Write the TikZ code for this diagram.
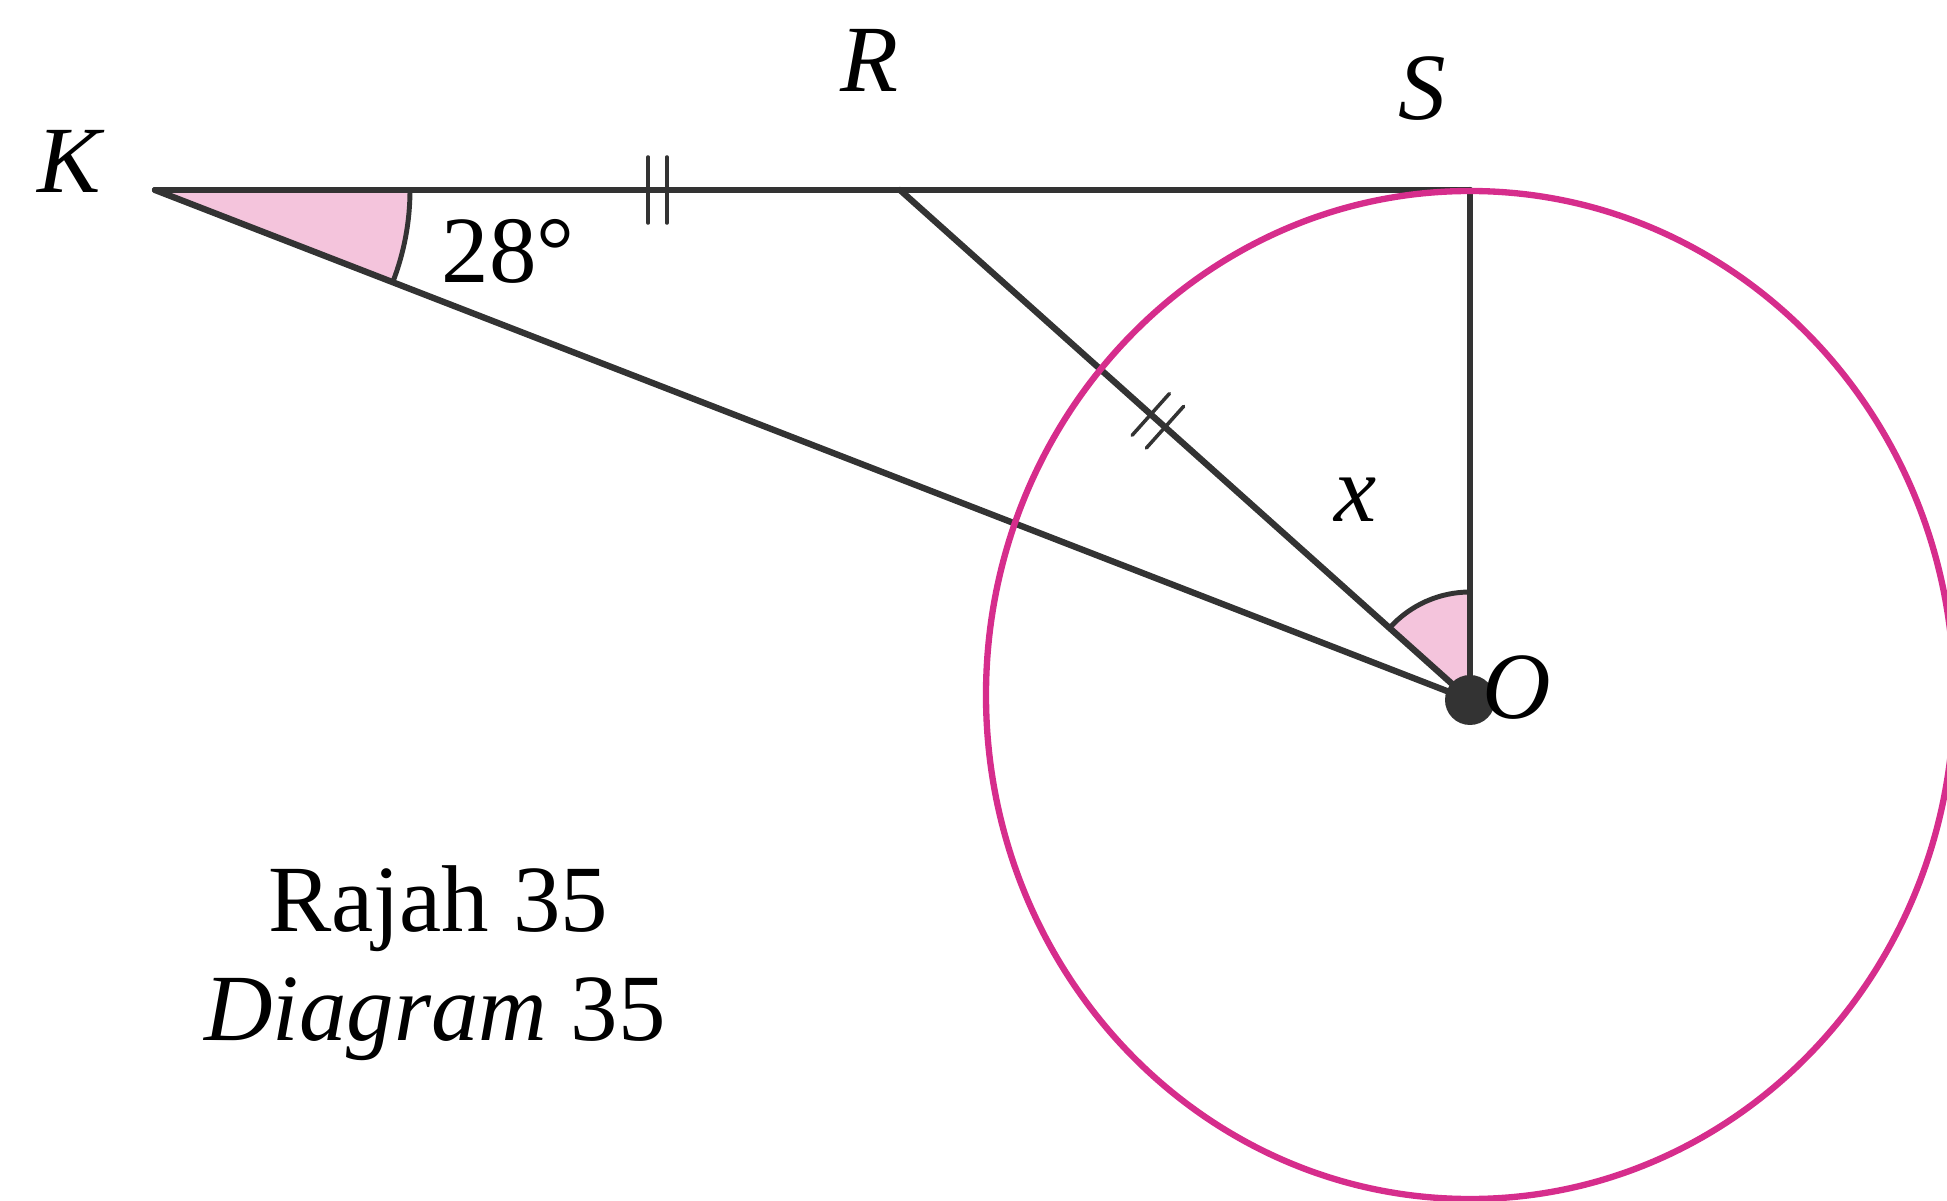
\documentclass[tikz,border=0pt]{standalone}
\usepackage{fontspec}
\setmainfont{Liberation Serif}
\usetikzlibrary{calc}
\definecolor{linegray}{RGB}{51,51,51}
\definecolor{circmag}{RGB}{214,45,140}
\definecolor{anglepink}{RGB}{244,196,220}

\begin{document}
\begin{tikzpicture}[line cap=round,
    every node/.style={font=\fontsize{27}{32}\selectfont, inner sep=0pt},
    edge/.style={draw=linegray, line width=1.8pt},
    tickmark/.style={draw=linegray, line width=1pt}]
  \useasboundingbox (0,0) rectangle (19.47,-12.01);
  \coordinate (K) at (1.55,-1.90);
  \coordinate (R) at (9.00,-1.90);
  \coordinate (S) at (14.70,-1.90);
  \coordinate (O) at (14.70,-7.00);
  % shaded angles at K and O
  \fill[anglepink] (K) -- ++(0:2.55) arc[start angle=0, end angle=-21.19, radius=2.55] -- cycle;
  \fill[anglepink] (O) -- ++(90:1.08) arc[start angle=90, end angle=138.18, radius=1.08] -- cycle;
  \draw[linegray, line width=1.4pt] ($(K)+(0:2.55)$) arc[start angle=0, end angle=-21.19, radius=2.55];
  \draw[linegray, line width=1.4pt] ($(O)+(90:1.08)$) arc[start angle=90, end angle=138.18, radius=1.08];
  % sides
  \draw[edge] (K) -- (S);
  \draw[edge] (S) -- (O);
  \draw[edge] (K) -- (O);
  \draw[edge] (R) -- (O);
  % equal marks
  \coordinate (m1) at ($(K)!0.662!(R)$);
  \coordinate (m2) at ($(K)!0.687!(R)$);
  \draw[tickmark] ($(m1)!0.33cm!90:(R)$) -- ($(m1)!0.33cm!-90:(R)$);
  \draw[tickmark] ($(m2)!0.33cm!90:(R)$) -- ($(m2)!0.33cm!-90:(R)$);
  \coordinate (n1) at ($(R)!0.44!(O)$);
  \coordinate (n2) at ($(R)!0.465!(O)$);
  \draw[tickmark] ($(n1)!0.28cm!90:(O)$) -- ($(n1)!0.28cm!-90:(O)$);
  \draw[tickmark] ($(n2)!0.28cm!90:(O)$) -- ($(n2)!0.28cm!-90:(O)$);
  % circle centre O
  \draw[circmag, line width=1.8pt] (14.70,-6.95) ellipse [x radius=4.84, y radius=5.04];
  \fill[linegray] (O) circle (0.25);
  % labels
  \node (lK) at (0.71,-1.61) {\textit{K}};
  \node (lR) at (8.69,-0.60) {\textit{R}};
  \node (lS) at (14.22,-0.89) {\textit{S}};
  \node (lO) at (15.17,-6.88) {\textit{O}};
  \node (lx) at (13.56,-5.00) {\textit{x}};
  \node[anchor=base west] (l28) at (4.41,-2.83) {28°};
  \node[anchor=base] (cap1) at (4.38,-9.31) {Rajah 35};
  \node[anchor=base] (cap2) at (4.35,-10.41) {\textit{Diagram} 35};
\end{tikzpicture}
\end{document}
